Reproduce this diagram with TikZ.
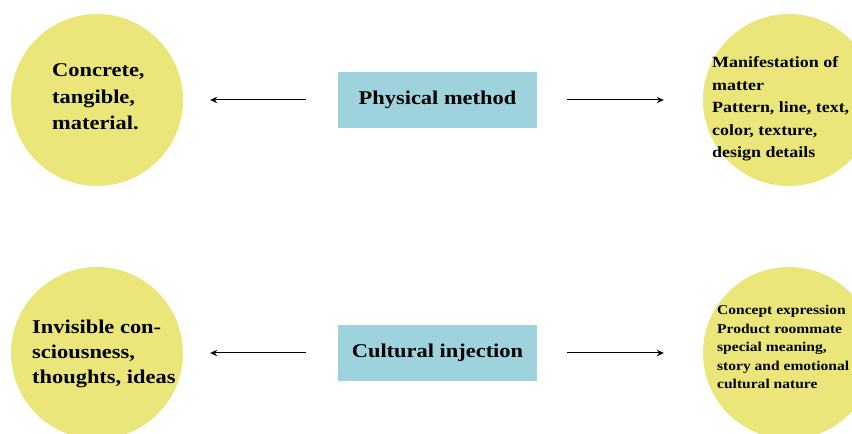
\documentclass[tikz,border=0pt]{standalone}
\usepackage{fontspec}
\setmainfont{Liberation Serif}[FakeStretch=1.15]
\usepackage{tikz}
\usetikzlibrary{arrows.meta, positioning}
\definecolor{ideayellow}{RGB}{235,230,122}
\definecolor{methodblue}{RGB}{158,211,222}

\begin{document}
\begin{tikzpicture}[x=1pt, y=1pt,
        idea/.style={circle, fill=ideayellow, minimum size=172pt, inner sep=0pt},
        method/.style={fill=methodblue, minimum width=199pt, minimum height=56pt,
                       font=\fontsize{19.5}{22}\selectfont\bfseries},
        note/.style={anchor=west, align=left, inner sep=0pt},
        link/.style={-{Stealth[length=7pt, width=6.5pt]}, line width=1pt}]
        \useasboundingbox (0,0) rectangle (852,434);
        \clip (0,0) rectangle (852,434);
        % upper row
        \node[idea] (concrete) at (97,334) {};
        \node[idea] (matter) at (789,334) {};
        \node[method] (physical) at (437.5,334) {Physical method};
        \node[note, font=\fontsize{19.5}{26.5}\selectfont\bfseries] (concretetext) at (52,337)
            {Concrete,\\tangible,\\material.};
        \node[note, font=\fontsize{15.6}{22.5}\selectfont\bfseries] (mattertext) at (712,325)
            {Manifestation of\\matter\\Pattern, line, text,\\color, texture,\\design details};
        \draw[link, shorten <=32pt, shorten >=27pt] (physical.west) -- (concrete.east);
        \draw[link, shorten <=30pt, shorten >=39pt] (physical.east) -- (matter.west);
        % lower row
        \node[idea] (invisible) at (97,81) {};
        \node[idea] (concept) at (789,81) {};
        \node[method] (cultural) at (437.5,81) {Cultural injection};
        \node[note, font=\fontsize{19.5}{25}\selectfont\bfseries] (invisibletext) at (32,80.5)
            {Invisible con-\\sciousness,\\thoughts, ideas};
        \node[note, font=\fontsize{13.5}{18.5}\selectfont\bfseries] (concepttext) at (717,87)
            {Concept expression\\Product roommate\\special meaning,\\story and emotional\\cultural nature};
        \draw[link, shorten <=32pt, shorten >=27pt] (cultural.west) -- (invisible.east);
        \draw[link, shorten <=30pt, shorten >=39pt] (cultural.east) -- (concept.west);
    \end{tikzpicture}
\end{document}
